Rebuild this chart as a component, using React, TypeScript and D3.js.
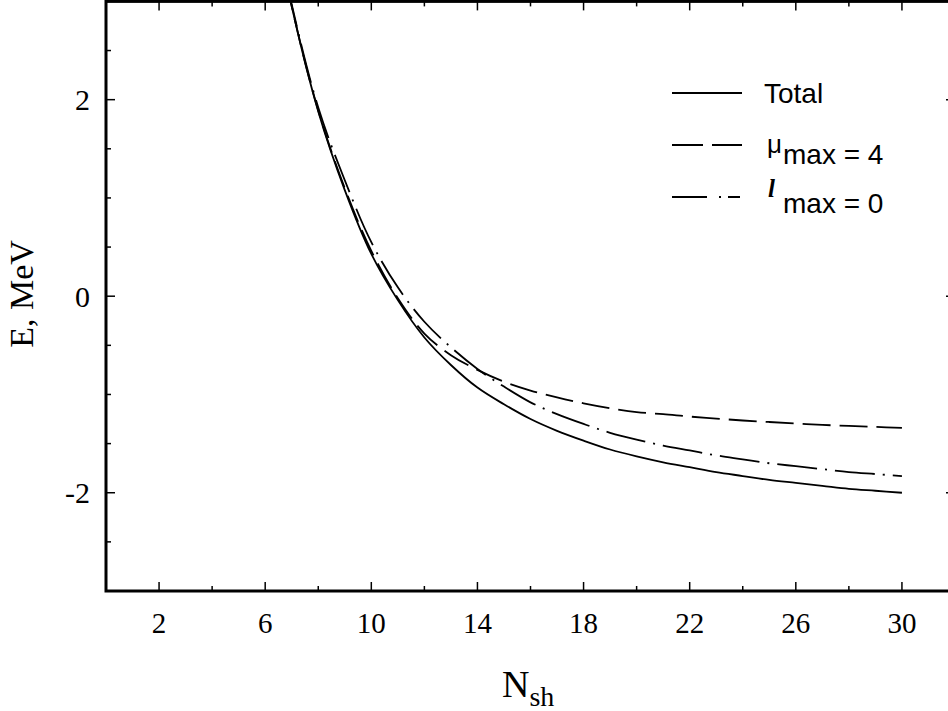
import * as d3 from 'd3';

// --- chart data ---
const shells = [6, 7, 8, 9, 10, 11, 12, 13, 14, 15, 16, 17, 18, 19, 20, 21, 22, 23, 24, 25, 26, 27, 28, 29, 30];

// Total
const totalE = [4.3, 2.95, 1.88, 1.08, 0.43, -0.04, -0.42, -0.7, -0.93, -1.1, -1.25, -1.37, -1.47, -1.56, -1.63, -1.69, -1.74, -1.79, -1.83, -1.87, -1.9, -1.93, -1.96, -1.98, -2.0];
// mu_max = 4
const muMaxE = [4.3, 2.95, 1.89, 1.1, 0.46, -0.02, -0.38, -0.6, -0.75, -0.87, -0.96, -1.03, -1.09, -1.14, -1.18, -1.2, -1.225, -1.245, -1.265, -1.28, -1.295, -1.31, -1.32, -1.33, -1.34];
// l_max = 0
const lMaxE = [4.3, 2.97, 1.92, 1.18, 0.55, 0.09, -0.26, -0.52, -0.74, -0.92, -1.08, -1.2, -1.3, -1.39, -1.46, -1.52, -1.57, -1.62, -1.66, -1.7, -1.73, -1.76, -1.79, -1.81, -1.83];

const xTickLabels = [2, 6, 10, 14, 18, 22, 26, 30];
const xMinorTicks = [4, 8, 12, 16, 20, 24, 28];
const yTickLabels = [-2, 0, 2];
const yMinorTicks = [-2.5, -1.5, -1, -0.5, 0.5, 1, 1.5, 2.5];

const W = 948;
const H = 711;
const serif = '"Liberation Serif", "Times New Roman", serif';
const sans = '"Liberation Sans", Arial, sans-serif';

export default function App() {
  const x = d3.scaleLinear().domain([0, 32]).range([106, 955]);
  const y = d3.scaleLinear().domain([-3, 3]).range([591, 1.4]);

  const line = (vals: number[]) =>
    d3
      .line<number>()
      .x((_, i) => x(shells[i]))
      .y((d) => y(d))
      .curve(d3.curveCatmullRom.alpha(0.5))(vals) || '';

  const series = [
    { vals: totalE, dash: undefined },
    { vals: muMaxE, dash: '28 9' },
    { vals: lMaxE, dash: '40 8 2 8' },
  ];

  const x0 = x(0);
  const x1 = x(32);
  const y0 = y(-3);
  const y1 = y(3);

  return (
    <svg
      width={W}
      height={H}
      style={{ position: 'absolute', left: 0, top: 0, background: '#fff' }}
    >
      <defs>
        <clipPath id="plot">
          <rect x={x0} y={y1} width={x1 - x0} height={y0 - y1} />
        </clipPath>
      </defs>

      {/* curves */}
      <g clipPath="url(#plot)" fill="none" stroke="#000" strokeWidth={1.8}>
        {series.map((s, i) => (
          <path key={i} d={line(s.vals)} strokeDasharray={s.dash} />
        ))}
      </g>

      {/* ticks on all four sides */}
      <g stroke="#000" strokeWidth={1.5}>
        {xTickLabels.map((t) => (
          <g key={'xt' + t}>
            <line x1={x(t)} x2={x(t)} y1={y0} y2={y0 - 9} />
            <line x1={x(t)} x2={x(t)} y1={y1} y2={y1 + 9} />
          </g>
        ))}
        {xMinorTicks.map((t) => (
          <g key={'xm' + t}>
            <line x1={x(t)} x2={x(t)} y1={y0} y2={y0 - 5} />
            <line x1={x(t)} x2={x(t)} y1={y1} y2={y1 + 5} />
          </g>
        ))}
        {yTickLabels.map((t) => (
          <g key={'yt' + t}>
            <line x1={x0} x2={x0 + 9} y1={y(t)} y2={y(t)} />
            <line x1={x1} x2={x1 - 9} y1={y(t)} y2={y(t)} />
          </g>
        ))}
        {yMinorTicks.map((t) => (
          <g key={'ym' + t}>
            <line x1={x0} x2={x0 + 5} y1={y(t)} y2={y(t)} />
            <line x1={x1} x2={x1 - 5} y1={y(t)} y2={y(t)} />
          </g>
        ))}
      </g>

      {/* frame */}
      <rect x={x0} y={y1} width={x1 - x0} height={y0 - y1} fill="none" stroke="#000" strokeWidth={3} />

      {/* tick labels */}
      <g fontFamily={serif} fontSize={29} fill="#000">
        {xTickLabels.map((t) => (
          <text key={'xl' + t} x={x(t)} y={y0 + 42} textAnchor="middle">
            {t}
          </text>
        ))}
      </g>
      <g fontFamily={serif} fontSize={30} fill="#000">
        {yTickLabels.map((t) => (
          <text key={'yl' + t} x={90} y={y(t) + 10.5} textAnchor="end">
            {t}
          </text>
        ))}
      </g>

      {/* axis titles */}
      <text
        transform="translate(33,294) rotate(-90)"
        textAnchor="middle"
        fontFamily={serif}
        fontSize={34}
      >
        E, MeV
      </text>
      <text x={502} y={697} fontFamily={serif} fontSize={38}>
        N
        <tspan fontSize={28} dy={9}>sh</tspan>
      </text>

      {/* legend */}
      <g stroke="#000" strokeWidth={1.8}>
        <line x1={672} x2={742} y1={93} y2={93} />
        <line x1={672} x2={742} y1={145} y2={145} strokeDasharray="31 9" />
        <line x1={672} x2={742} y1={197} y2={197} strokeDasharray="35 12 2 7 12" />
      </g>
      <g fontFamily={sans} fontSize={28} fill="#000">
        <text x={764} y={103}>Total</text>
        <text x={767} y={153}>
          <tspan fontSize={26}>μ</tspan>
          <tspan x={783} dy={11}>max = 4</tspan>
        </text>
        <text x={768} y={197}>
          <tspan fontFamily={serif} fontStyle="italic" fontWeight="bold" fontSize={25}>l</tspan>
          <tspan x={783} dy={16}>max = 0</tspan>
        </text>
      </g>
    </svg>
  );
}
